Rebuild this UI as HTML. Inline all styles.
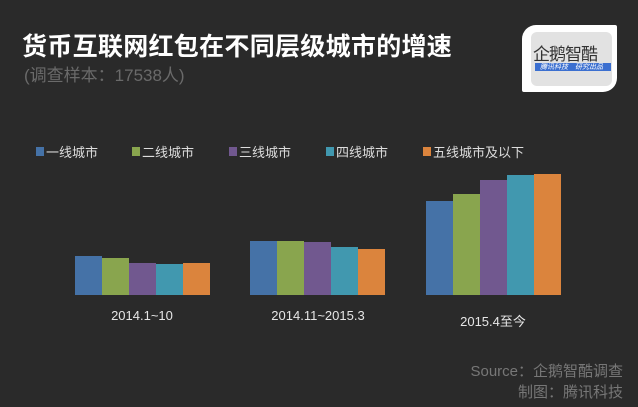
<!DOCTYPE html>
<html><head><meta charset="utf-8"><style>
body{margin:0;width:638px;height:407px;background:#2a2a2a;overflow:hidden;position:relative;font-family:"Liberation Sans","Noto Sans CJK SC",sans-serif}
.a{position:absolute;white-space:nowrap}
.b{position:absolute}
</style></head><body>
<div class="a" style="left:22px;top:27px;font-size:25px;font-weight:bold;color:#fff;letter-spacing:0.3px">货币互联网红包在不同层级城市的增速</div>
<div class="a" style="left:24px;top:61px;font-size:17px;color:#6a6a6a">(调查样本：17538人)</div>
<div class="b" style="left:522px;top:25px;width:95px;height:67px;background:#fff;border-radius:14px 2px 14px 2px"></div>
<div class="b" style="left:531px;top:32px;width:81px;height:54px;background:#e2e2e2;border-radius:6px"></div>
<div class="a" style="left:533px;top:40px;font-size:17px;color:#333;letter-spacing:-1px">企鹅智酷</div>
<div class="b" style="left:535px;top:63px;width:76px;height:8px;background:#3b6fd0"></div>
<div class="a" style="left:540px;top:62px;font-size:7px;color:#fff;font-style:italic">腾讯科技　研究出品</div>
<svg class="b" style="left:0;top:0" width="638" height="407">
<g font-size="13" fill="#ddd" font-family="Liberation Sans, Noto Sans CJK SC, sans-serif">
<rect x="36" y="147" width="8" height="9" fill="#4572a7"/><text x="46" y="157">一线城市</text>
<rect x="132" y="147" width="8" height="9" fill="#89a54e"/><text x="142" y="157">二线城市</text>
<rect x="229" y="147" width="8" height="9" fill="#71588f"/><text x="239" y="157">三线城市</text>
<rect x="326" y="147" width="8" height="9" fill="#4198af"/><text x="336" y="157">四线城市</text>
<rect x="423" y="147" width="8" height="9" fill="#db843d"/><text x="433" y="157">五线城市及以下</text>
</g>
<g>
<rect x="75" y="256" width="27" height="39" fill="#4572a7"/>
<rect x="102" y="258" width="27" height="37" fill="#89a54e"/>
<rect x="129" y="263" width="27" height="32" fill="#71588f"/>
<rect x="156" y="264" width="27" height="31" fill="#4198af"/>
<rect x="183" y="263" width="27" height="32" fill="#db843d"/>
<rect x="250" y="241" width="27" height="54" fill="#4572a7"/>
<rect x="277" y="241" width="27" height="54" fill="#89a54e"/>
<rect x="304" y="242" width="27" height="53" fill="#71588f"/>
<rect x="331" y="247" width="27" height="48" fill="#4198af"/>
<rect x="358" y="249" width="27" height="46" fill="#db843d"/>
<rect x="426" y="201" width="27" height="94" fill="#4572a7"/>
<rect x="453" y="194" width="27" height="101" fill="#89a54e"/>
<rect x="480" y="180" width="27" height="115" fill="#71588f"/>
<rect x="507" y="175" width="27" height="120" fill="#4198af"/>
<rect x="534" y="174" width="27" height="121" fill="#db843d"/>
</g>
<g font-size="13" fill="#e6e6e6" text-anchor="middle" font-family="Liberation Sans, Noto Sans CJK SC, sans-serif">
<text x="142" y="320">2014.1~10</text>
<text x="318" y="320">2014.11~2015.3</text>
<text x="493" y="326">2015.4至今</text>
</g>
<g font-size="15" fill="#777" text-anchor="end" font-family="Liberation Sans, Noto Sans CJK SC, sans-serif">
<text x="623" y="376">Source：企鹅智酷调查</text>
<text x="623" y="397">制图：腾讯科技</text>
</g>
</svg>
</body></html>
